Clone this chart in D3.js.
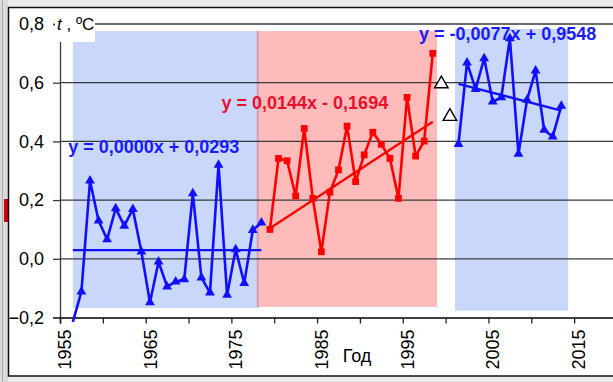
<!DOCTYPE html>
<html>
<head>
<meta charset="utf-8">
<script src="https://cdn.jsdelivr.net/npm/d3@7"></script>
<style>
body { margin: 0; background: #ececec; }
svg { display: block; font-family: Arial, "Liberation Sans", sans-serif; }
</style>
</head>
<body>
<svg id="chart" width="613" height="382"></svg>
<script>
'use strict'

// period 1: 1956-1978 (blue triangles)
const years1 = [1956, 1957, 1958, 1959, 1960, 1961, 1962, 1963, 1964, 1965, 1966, 1967,
                1968, 1969, 1970, 1971, 1972, 1973, 1974, 1975, 1976, 1977, 1978]
const temps1 = [-0.215, -0.112, 0.266, 0.130, 0.066, 0.172, 0.112, 0.169, 0.024, -0.149, -0.010, -0.095,
                -0.078, -0.070, 0.223, -0.064, -0.115, 0.320, -0.123, 0.032, -0.083, 0.098, 0.123]

// period 2: 1979-1998 (red squares)
const years2 = [1979, 1980, 1981, 1982, 1983, 1984, 1985, 1986, 1987, 1988,
                1989, 1990, 1991, 1992, 1993, 1994, 1995, 1996, 1997, 1998]
const temps2 = [0.100, 0.342, 0.334, 0.214, 0.444, 0.206, 0.024, 0.227, 0.303, 0.452,
                0.263, 0.354, 0.431, 0.390, 0.342, 0.206, 0.550, 0.350, 0.401, 0.700]

// two open triangles
const yearsOpen = [1999, 2000]
const tempsOpen = [0.596, 0.485]

// period 3: 2001-2013 (blue triangles)
const years3 = [2001, 2002, 2003, 2004, 2005, 2006, 2007, 2008, 2009, 2010, 2011, 2012, 2013]
const temps3 = [0.391, 0.668, 0.578, 0.683, 0.535, 0.550, 0.751, 0.357, 0.541, 0.641, 0.439, 0.416, 0.521]

// trend lines (end points)
const trendYears = [[1956, 1978], [1979, 1998], [2001, 2013]]
const trendVals = [[0.0293, 0.0293], [0.104, 0.467], [0.596, 0.505]]
const trendText = ['y = 0,0000x + 0,0293', 'y = 0,0144x - 0,1694', 'y = -0,0077x + 0,9548']
const trendTextAt = [[1955.95, 0.383], [1973.85, 0.531], [1996.9, 0.768]]

// shaded periods
const bandFrom = [1956.5, 1977.95, 2001.1]
const bandTo = [1978.2, 1999.0, 2014.3]
const bandTop = [0.776, 0.776, 0.783]
const bandBottom = [-0.168, -0.164, -0.177]

const yTicks = [-0.2, 0, 0.2, 0.4, 0.6, 0.8]
const xTicks = [1955, 1960, 1965, 1970, 1975, 1980, 1985, 1990, 1995, 2000, 2005, 2010, 2015]
const xLabels = [1955, 1965, 1975, 1985, 1995, 2005, 2015]

const blue = '#1010ff'
const red = '#ff0000'

const svg = d3.select('#chart')

const x = d3.scaleLinear().domain([1955, 2020]).range([60, 617])
const y = d3.scaleLinear().domain([-0.2, 0.8]).range([317.5, 24])
const px = yr => x(yr + 0.5)   // points sit in the middle of their year

// chart frame
svg.append('rect').attr('x', 0).attr('y', 0).attr('width', 8).attr('height', 382).attr('fill', '#dcdcdc')
svg.append('line').attr('x1', 2.5).attr('x2', 2.5).attr('y1', 0).attr('y2', 382).attr('stroke', '#aaa')
svg.append('rect').attr('x', 4).attr('y', 199).attr('width', 4).attr('height', 23).attr('fill', '#cc0000')
svg.append('rect').attr('x', 8.5).attr('y', 7.5).attr('width', 620).attr('height', 368.5)
    .attr('fill', '#fff').attr('stroke', '#111').attr('stroke-width', 1.5)

// shaded bands
const bandColors = ['#c9d7fa', 'rgba(255,0,0,0.27)', '#c9d7fa']
bandFrom.forEach((f, i) => {
    svg.append('rect')
        .attr('x', x(f)).attr('width', x(bandTo[i]) - x(f))
        .attr('y', y(bandTop[i])).attr('height', y(bandBottom[i]) - y(bandTop[i]))
        .attr('fill', bandColors[i])
})

// gridlines
svg.append('g').selectAll('line')
    .data(yTicks.filter(d => d > -0.2))
    .join('line')
    .attr('x1', 60).attr('x2', 613)
    .attr('y1', d => y(d)).attr('y2', d => y(d))
    .attr('stroke', '#3a3a3a').attr('stroke-width', 1.3)

// y axis
const yAxis = svg.append('g').attr('transform', 'translate(60,0)')
    .call(d3.axisLeft(y).tickValues(yTicks).tickSize(7).tickPadding(9)
        .tickFormat(d => d3.format('.1f')(d).replace('.', ',')))
yAxis.select('.domain').attr('stroke', '#3a3a3a').attr('stroke-width', 1.3)
yAxis.selectAll('.tick line').attr('stroke', '#3a3a3a').attr('stroke-width', 1.3)
yAxis.selectAll('text').attr('font-size', 18).attr('fill', '#000').attr('font-family', 'Arial, "Liberation Sans", sans-serif')

// y axis title with white background
svg.append('rect').attr('x', 55).attr('y', 10).attr('width', 40).attr('height', 32).attr('fill', '#fff')
const yTitle = svg.append('text').attr('x', 57).attr('y', 30).attr('font-size', 17)
yTitle.append('tspan').attr('font-style', 'italic').text('t')
yTitle.append('tspan').text(' , ºC')

// x axis
const xAxis = svg.append('g').attr('transform', `translate(0,${y(-0.2)})`)
    .call(d3.axisBottom(x).tickValues(xTicks).tickSize(6)
        .tickFormat(d => xLabels.includes(d) ? d : ''))
xAxis.select('.domain').attr('stroke', '#000').attr('stroke-width', 1.5)
xAxis.selectAll('.tick line').attr('stroke', '#222').attr('stroke-width', 1.3)
xAxis.selectAll('text')
    .attr('font-size', 18).attr('fill', '#000').attr('font-family', 'Arial, "Liberation Sans", sans-serif')
    .attr('transform', 'rotate(-90)')
    .attr('x', -12).attr('y', 4).attr('dy', '0.35em')
    .style('text-anchor', 'end')

svg.append('text').attr('x', 357).attr('y', 361.5).attr('font-size', 18)
    .attr('text-anchor', 'middle').text('Год')

// series
svg.append('defs').append('clipPath').attr('id', 'plotClip')
    .append('rect').attr('x', 60).attr('y', 0).attr('width', 560).attr('height', 322)

const line = d3.line().x(d => px(d[0])).y(d => y(d[1]))
const tri = d3.symbol().type(d3.symbolTriangle).size(42)
const sq = d3.symbol().type(d3.symbolSquare).size(46)
const triOpen = d3.symbol().type(d3.symbolTriangle).size(78)

function drawSeries(years, temps, color, symbol) {
    const pts = years.map((yr, i) => [yr, temps[i]])
    svg.append('path').datum(pts)
        .attr('clip-path', 'url(#plotClip)')
        .attr('d', line).attr('fill', 'none')
        .attr('stroke', color).attr('stroke-width', 2.6).attr('stroke-linejoin', 'round')
    svg.append('g').selectAll('path')
        .data(pts.filter(d => d[1] >= -0.2))
        .join('path')
        .attr('transform', d => `translate(${px(d[0])},${y(d[1])})`)
        .attr('d', symbol).attr('fill', color)
}

drawSeries(years1, temps1, blue, tri)
drawSeries(years2, temps2, red, sq)
drawSeries(years3, temps3, blue, tri)

svg.append('g').selectAll('path')
    .data(yearsOpen.map((yr, i) => [yr, tempsOpen[i]]))
    .join('path')
    .attr('transform', d => `translate(${px(d[0])},${y(d[1])})`)
    .attr('d', triOpen).attr('fill', '#fff').attr('stroke', '#000').attr('stroke-width', 1.4)

// trend lines and equations
const trendColors = [blue, red, blue]
const textColors = ['#1a1aff', '#e8102e', '#1a1aff']
trendYears.forEach((t, i) => {
    svg.append('path').datum([[t[0], trendVals[i][0]], [t[1], trendVals[i][1]]])
        .attr('d', line).attr('fill', 'none')
        .attr('stroke', trendColors[i]).attr('stroke-width', 2.2)
    svg.append('text')
        .attr('x', x(trendTextAt[i][0])).attr('y', y(trendTextAt[i][1]))
        .attr('dy', '0.35em')
        .attr('font-size', 18).attr('font-weight', 'bold')
        .attr('fill', textColors[i])
        .text(trendText[i])
})
</script>
</body>
</html>
